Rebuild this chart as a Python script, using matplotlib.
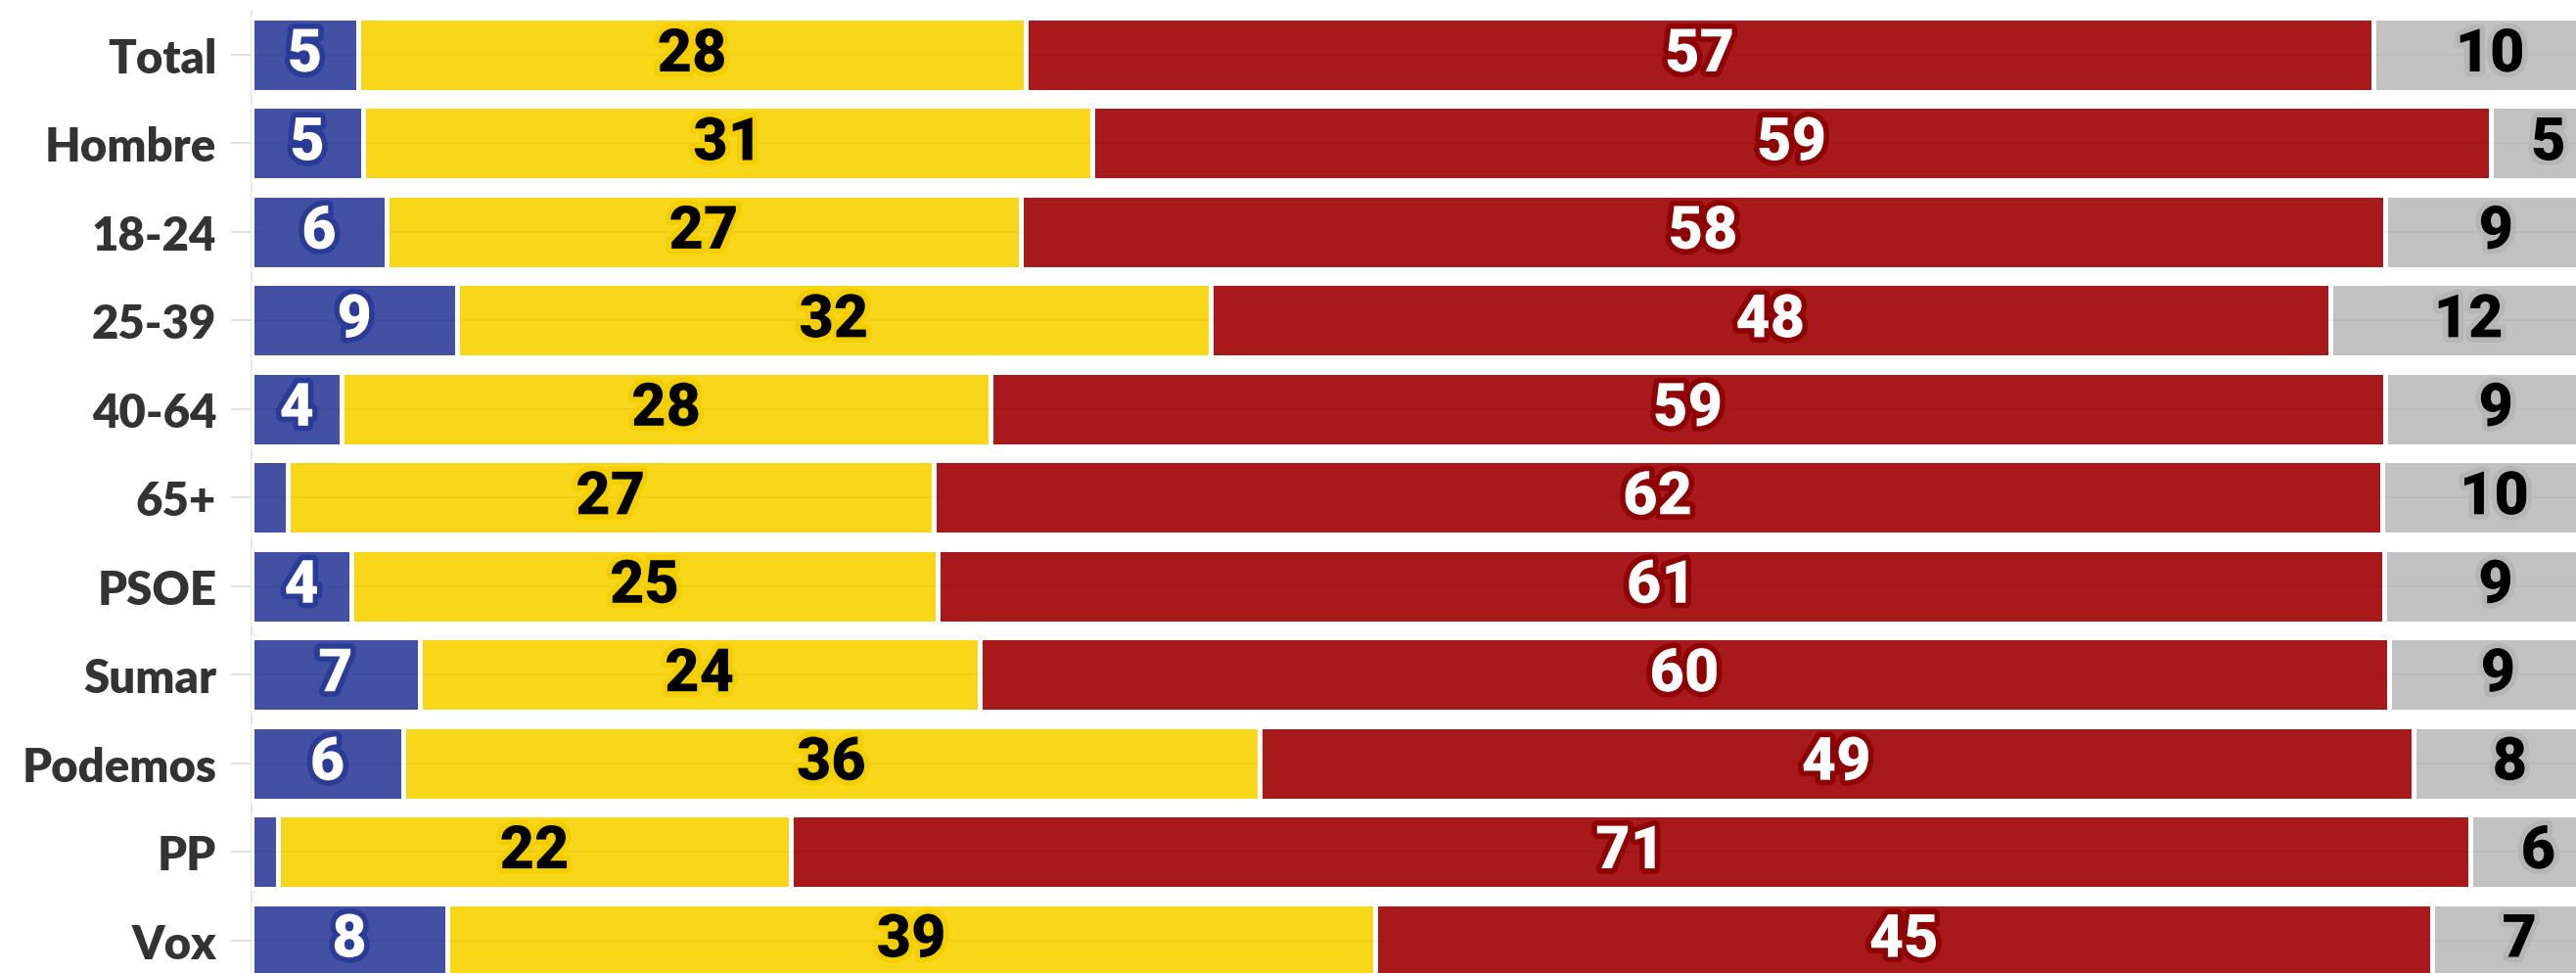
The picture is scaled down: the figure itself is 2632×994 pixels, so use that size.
import matplotlib
matplotlib.use('Agg')
import matplotlib.pyplot as plt
import matplotlib.patheffects as pe
import numpy as np

categories = ['Total', 'Hombre', '18-24', '25-39', '40-64', '65+',
              'PSOE', 'Sumar', 'Podemos', 'PP', 'Vox']
blue = [4.51, 4.72, 5.71, 8.71, 3.82, 1.52, 4.22, 7.12, 6.42, 1.12, 8.29]
yellow = [28.37, 30.99, 26.95, 32.00, 27.55, 27.42, 24.91, 23.78, 36.37, 21.76, 39.42]
red = [57.21, 59.36, 57.94, 47.55, 59.22, 61.51, 61.44, 59.87, 48.99, 71.31, 44.89]
gray = [9.91, 4.93, 9.40, 11.74, 9.41, 9.55, 9.43, 9.23, 8.22, 5.81, 7.40]

series = [blue, yellow, red, gray]
colors = ['#4350A3', '#F8D71B', '#A7191B', '#C2C2C2']
text_colors = ['white', 'black', 'white', 'black']
stroke_colors = ['#2B3C98', '#F4CF00', '#8E0303', '#B6B6B6']

W, H = 2632, 995
fig = plt.figure(figsize=(W / 100, H / 100), dpi=100)
left_px = 257.3
top_px = 12.7
ax = fig.add_axes([left_px / W, 0, 1 - left_px / W, 1 - top_px / H])

y = np.arange(len(categories))
left = np.zeros(len(categories))
for vals, col, tcol, scol in zip(series, colors, text_colors, stroke_colors):
    vals = np.array(vals)
    ax.barh(y, vals, left=left, height=0.84, color=col,
            edgecolor='white', linewidth=3.6, zorder=2)
    for yi, (l, v) in enumerate(zip(left, vals)):
        if v >= 2:
            ax.text(l + v / 2, yi, str(int(v + 0.5)), ha='center', va='center',
                    fontsize=44, fontweight='black', color=tcol,
                    family=['Roboto', 'DejaVu Sans'],
                    zorder=5,
                    path_effects=[pe.withStroke(linewidth=8, foreground=scol)])
    left = left + vals

for yi in y:
    ax.axhline(yi, color=(0, 0, 0, 0.035), lw=1.5, zorder=3)

ax.set_xlim(0, (W - left_px) / 24.06)
ax.set_ylim(10.37, -0.49)
ax.set_yticks(y)
ax.set_yticklabels(categories, fontsize=34, fontweight='heavy', color='#333333',
                   family=['Lato', 'DejaVu Sans'])
ax.tick_params(axis='y', length=15, width=1.5, color='#E2E2E2', pad=11)
ax.set_xticks([])
for s in ['top', 'right', 'bottom']:
    ax.spines[s].set_visible(False)
ax.spines['left'].set_color('#E6E6E6')
ax.spines['left'].set_linewidth(1.5)
ax.spines['left'].set_zorder(1)

fig.savefig('out.png', dpi=100, facecolor='white')
